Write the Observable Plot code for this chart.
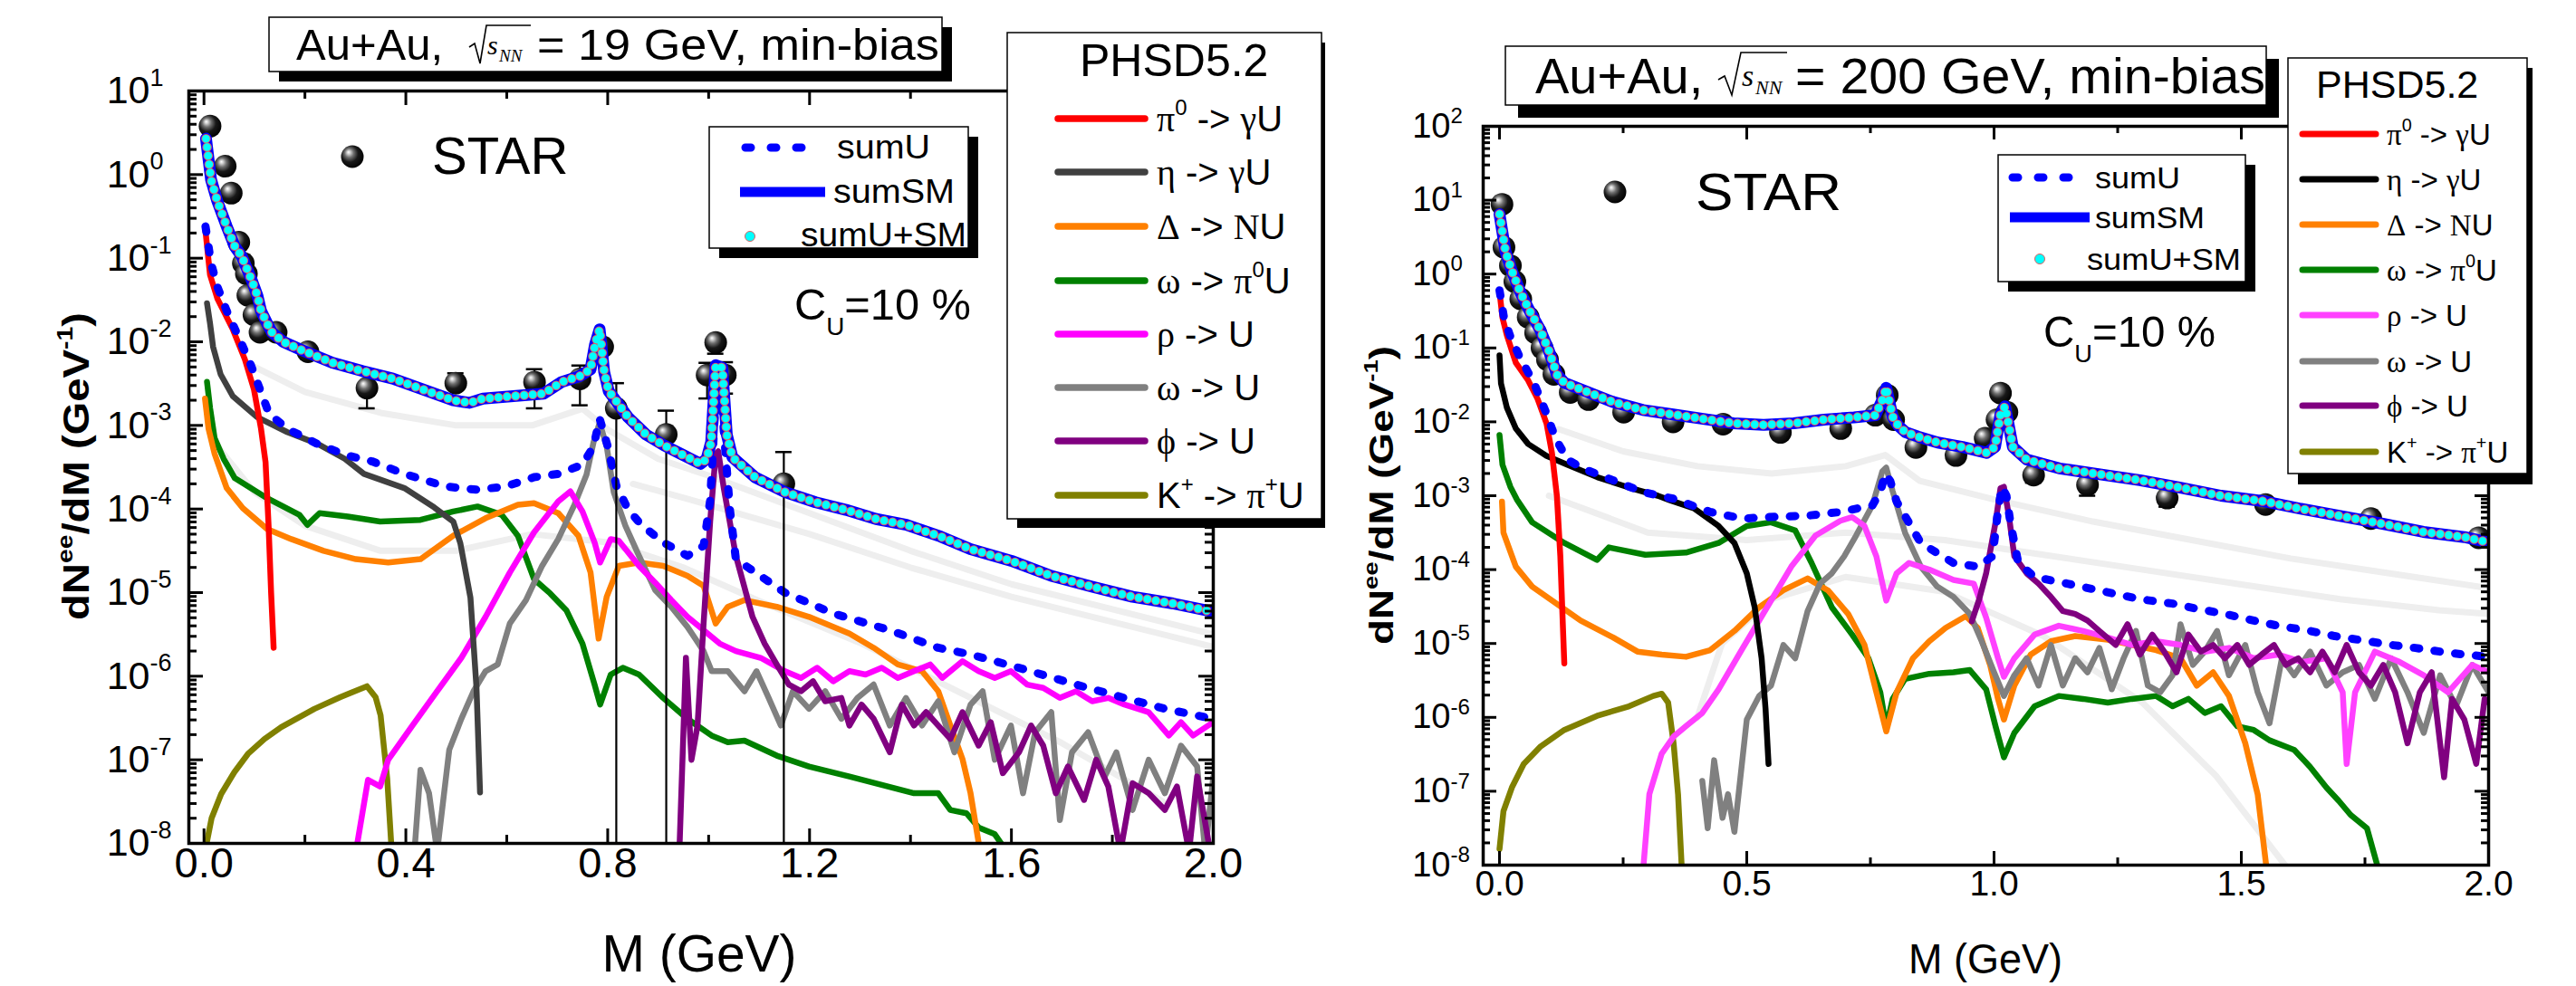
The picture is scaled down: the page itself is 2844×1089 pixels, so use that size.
<!DOCTYPE html>
<html>
<head>
<meta charset="utf-8">
<script src="https://cdn.jsdelivr.net/npm/d3@7"></script>
<script src="https://cdn.jsdelivr.net/npm/@observablehq/plot@0.6"></script>
<style>
  html, body { margin: 0; padding: 0; background: #ffffff; }
  #wrap { position: relative; width: 2844px; height: 1089px; overflow: hidden; background: #ffffff; }
  #wrap svg { position: absolute; top: 0; }
</style>
</head>
<body>
<div id="wrap"></div>
<script>
// ===================== DATA (M in GeV, values read as log10(dN/dM)) =====================
// ---------- Au+Au 19 GeV ----------
const M19_sumSM = [0.004,0.014,0.026,0.045,0.061,0.075,0.095,0.106,0.113,0.126,0.135,0.157,0.194,0.254,0.314,0.374,0.434,0.494,0.526,0.553,0.613,0.673,0.709,0.745,0.766,0.775,0.784,0.793,0.802,0.817,0.840,0.876,0.912,0.948,0.984,0.996,1.005,1.014,1.027,1.036,1.047,1.092,1.152,1.212,1.272,1.332,1.392,1.46,1.519,1.60,1.679,1.76,1.840,1.920,2.0];
const L19_sumSM = [0.43,-0.06,-0.31,-0.62,-0.86,-0.98,-1.27,-1.45,-1.63,-1.79,-1.89,-2.0,-2.1,-2.25,-2.35,-2.44,-2.57,-2.70,-2.73,-2.68,-2.65,-2.62,-2.48,-2.41,-2.33,-2.03,-1.85,-2.36,-2.59,-2.71,-2.90,-3.11,-3.24,-3.35,-3.46,-3.40,-3.20,-2.28,-2.31,-3.11,-3.38,-3.62,-3.80,-3.92,-4.01,-4.12,-4.19,-4.33,-4.48,-4.62,-4.80,-4.93,-5.05,-5.13,-5.23];
const M19_sumUSM = M19_sumSM;
const L19_sumUSM = L19_sumSM;
const M19_sumU = [0.003,0.014,0.027,0.045,0.075,0.093,0.111,0.129,0.165,0.224,0.284,0.333,0.397,0.478,0.542,0.598,0.654,0.702,0.75,0.772,0.784,0.80,0.817,0.840,0.865,0.91,0.958,0.99,1.003,1.012,1.019,1.028,1.042,1.054,1.151,1.247,1.359,1.455,1.519,1.615,1.728,1.824,1.904,2.0];
const L19_sumU = [-0.62,-1.06,-1.35,-1.63,-2.03,-2.28,-2.57,-2.86,-3.04,-3.22,-3.36,-3.43,-3.58,-3.73,-3.77,-3.73,-3.62,-3.58,-3.47,-3.25,-2.92,-3.25,-3.72,-4.0,-4.18,-4.40,-4.56,-4.44,-3.9,-2.9,-2.5,-2.9,-4.0,-4.60,-5.0,-5.25,-5.45,-5.66,-5.74,-5.90,-6.10,-6.26,-6.39,-6.51];
const M19_pi0 = [0.002,0.012,0.027,0.057,0.081,0.099,0.113,0.122,0.128,0.133,0.138];
const L19_pi0 = [-0.62,-1.20,-1.49,-1.85,-2.21,-2.57,-3.04,-3.44,-4.2,-5.0,-5.66];
const M19_eta = [0.006,0.012,0.018,0.033,0.057,0.105,0.165,0.225,0.279,0.317,0.397,0.456,0.494,0.508,0.528,0.540,0.547];
const L19_eta = [-1.54,-1.78,-2.06,-2.39,-2.65,-2.90,-3.08,-3.22,-3.40,-3.58,-3.75,-3.98,-4.15,-4.41,-5.06,-6.14,-7.39];
const M19_delta = [0.002,0.009,0.021,0.045,0.077,0.125,0.173,0.237,0.301,0.365,0.429,0.494,0.558,0.622,0.654,0.702,0.742,0.766,0.782,0.798,0.822,0.862,0.910,0.958,0.990,1.014,1.038,1.071,1.135,1.199,1.279,1.327,1.375,1.423,1.455,1.479,1.503,1.519,1.538];
const L19_delta = [-2.68,-3.04,-3.34,-3.75,-3.99,-4.24,-4.36,-4.50,-4.60,-4.64,-4.60,-4.32,-4.11,-3.95,-3.93,-4.05,-4.32,-4.76,-5.55,-5.05,-4.68,-4.64,-4.68,-4.80,-4.92,-5.37,-5.17,-5.09,-5.17,-5.29,-5.49,-5.66,-5.86,-5.94,-6.18,-6.59,-6.99,-7.40,-8.1];
const M19_omPi0 = [0.006,0.012,0.021,0.039,0.061,0.125,0.189,0.205,0.229,0.285,0.349,0.429,0.494,0.542,0.590,0.622,0.654,0.686,0.718,0.750,0.774,0.785,0.806,0.830,0.862,0.910,0.958,1.006,1.038,1.071,1.135,1.199,1.279,1.343,1.407,1.455,1.479,1.511,1.535,1.567,1.591];
const L19_omPi0 = [-2.48,-2.79,-3.15,-3.40,-3.63,-3.87,-4.07,-4.19,-4.05,-4.09,-4.15,-4.13,-4.03,-3.97,-4.07,-4.32,-4.84,-5.01,-5.21,-5.61,-6.10,-6.34,-5.98,-5.90,-5.98,-6.26,-6.51,-6.71,-6.79,-6.77,-6.95,-7.08,-7.20,-7.30,-7.40,-7.40,-7.60,-7.64,-7.81,-7.89,-8.1];
const M19_rho = [0.301,0.325,0.349,0.365,0.413,0.462,0.510,0.558,0.606,0.654,0.702,0.726,0.750,0.774,0.785,0.806,0.822,0.862,0.894,0.926,0.958,0.990,1.022,1.054,1.103,1.151,1.183,1.215,1.247,1.279,1.311,1.343,1.375,1.407,1.439,1.463,1.503,1.535,1.567,1.599,1.631,1.663,1.696,1.728,1.760,1.792,1.824,1.872,1.912,1.936,1.960,2.0];
const L19_rho = [-8.1,-7.24,-7.32,-7.0,-6.59,-6.18,-5.78,-5.29,-4.76,-4.28,-3.91,-3.79,-4.03,-4.40,-4.64,-4.36,-4.38,-4.68,-4.88,-5.09,-5.29,-5.45,-5.61,-5.70,-5.78,-5.94,-6.02,-5.90,-6.06,-5.94,-5.98,-5.90,-6.02,-5.94,-5.86,-6.02,-5.82,-5.94,-6.02,-5.94,-6.10,-6.14,-6.26,-6.18,-6.30,-6.26,-6.34,-6.43,-6.71,-6.55,-6.71,-6.55];
const M19_omU = [0.417,0.429,0.446,0.462,0.486,0.510,0.534,0.558,0.582,0.606,0.638,0.670,0.702,0.734,0.758,0.772,0.784,0.798,0.812,0.835,0.862,0.894,0.926,0.958,0.990,1.006,1.038,1.071,1.095,1.119,1.143,1.167,1.199,1.231,1.263,1.295,1.327,1.359,1.391,1.423,1.455,1.487,1.519,1.543,1.567,1.599,1.623,1.647,1.679,1.696,1.720,1.752,1.785,1.808,1.840,1.872,1.904,1.936,1.968,1.984,2.0];
const L19_omU = [-8.1,-7.12,-7.40,-8.1,-6.88,-6.51,-6.18,-5.94,-5.86,-5.37,-5.09,-4.68,-4.36,-3.95,-3.59,-3.2,-2.97,-3.25,-3.8,-4.2,-4.56,-4.97,-5.17,-5.41,-5.70,-5.94,-5.94,-6.18,-5.94,-6.26,-6.59,-6.18,-6.39,-6.18,-6.51,-6.26,-6.10,-6.59,-6.26,-6.59,-6.30,-6.91,-6.34,-6.18,-7.0,-6.59,-7.40,-6.67,-6.43,-7.72,-6.91,-6.67,-7.20,-6.91,-7.60,-7.0,-7.40,-6.83,-7.08,-8.1,-7.20];
const M19_phi = [0.942,0.955,0.966,0.978,0.990,1.003,1.014,1.019,1.030,1.054,1.087,1.111,1.135,1.159,1.183,1.207,1.231,1.263,1.279,1.303,1.327,1.359,1.383,1.407,1.431,1.455,1.479,1.503,1.535,1.559,1.583,1.615,1.639,1.663,1.688,1.712,1.744,1.768,1.792,1.816,1.840,1.872,1.904,1.928,1.952,1.968,1.994];
const L19_phi = [-8.1,-5.78,-7.0,-6.59,-5.37,-4.15,-3.34,-3.31,-3.75,-4.56,-5.29,-5.61,-5.86,-6.10,-6.18,-6.06,-6.30,-6.26,-6.59,-6.34,-6.51,-6.91,-6.34,-6.59,-6.43,-6.59,-6.75,-6.43,-6.83,-6.55,-7.16,-6.91,-6.59,-6.83,-7.40,-7.08,-7.48,-7.0,-7.32,-8.1,-7.28,-7.40,-7.60,-7.32,-8.1,-7.20,-8.1];
const M19_K = [0.002,0.015,0.034,0.06,0.087,0.12,0.153,0.219,0.27,0.323,0.34,0.35,0.363,0.372];
const L19_K = [-8.1,-7.7,-7.41,-7.15,-6.93,-6.75,-6.61,-6.39,-6.25,-6.12,-6.25,-6.47,-7.22,-8.1];
// STAR 19 GeV (values)
const starM19 = [0.012,0.042,0.054,0.069,0.078,0.084,0.087,0.099,0.111,0.143,0.206,0.323,0.499,0.655,0.745,0.790,0.817,0.916,0.997,1.014,1.033,1.149];
const starY19 = [3.8,1.26,0.6,0.155,0.087,0.065,0.036,0.021,0.013,0.013,0.0076,0.0028,0.0032,0.0033,0.0036,0.0087,0.0016,7.8e-4,0.004,0.0098,0.004,2e-4];
const errM19  = [0.323,0.499,0.655,0.745,0.817,0.916,0.997,1.014,1.033,1.149];
const errLo19 = [1.6e-3,3.2e-3,1.6e-3,1.74e-3,1e-8,1e-8,2.1e-3,7.2e-3,2.4e-3,1e-8];
const errHi19 = [2.8e-3,4.2e-3,4.7e-3,5.2e-3,3.2e-3,1.5e-3,5.6e-3,9.8e-3,5.7e-3,4.8e-4];
// faint background curves
const ghost19 = [
  [[0.10,0.2,0.35,0.5,0.65,0.75,0.8,0.9,1.0,1.2,1.4,1.6,1.8,2.0],[-2.3,-2.6,-2.85,-3.0,-3.0,-2.8,-3.05,-3.4,-3.6,-4.05,-4.5,-4.9,-5.2,-5.5]],
  [[0.85,1.0,1.2,1.4,1.6,1.8,2.0],[-3.7,-3.95,-4.3,-4.7,-5.05,-5.35,-5.65]],
  [[0.02,0.1,0.2,0.35,0.5,0.65,0.8,0.95,1.1,1.3,1.5,1.7,1.9],[-3.2,-3.8,-4.2,-4.5,-4.5,-4.3,-4.4,-4.7,-5.1,-5.6,-6.2,-6.8,-7.5]]
];
const xMajor19 = [0, 0.4, 0.8, 1.2, 1.6, 2.0];
const xMinor19 = [0.2, 0.6, 1.0, 1.4, 1.8];
const yExp19 = [-8,-7,-6,-5,-4,-3,-2,-1,0,1];

// ---------- Au+Au 200 GeV ----------
const M200_sumSM = [0.0,0.012,0.024,0.043,0.061,0.082,0.100,0.116,0.131,0.168,0.229,0.290,0.351,0.412,0.473,0.534,0.595,0.656,0.717,0.760,0.775,0.782,0.795,0.806,0.821,0.846,0.886,0.936,0.985,1.002,1.013,1.022,1.029,1.038,1.066,1.132,1.214,1.295,1.377,1.459,1.541,1.623,1.705,1.786,1.868,1.951,2.0];
const L200_sumSM = [0.81,0.31,0.06,-0.26,-0.50,-0.75,-1.04,-1.36,-1.47,-1.57,-1.73,-1.84,-1.90,-1.96,-2.02,-2.04,-2.02,-1.97,-1.94,-1.91,-1.69,-1.54,-1.93,-2.05,-2.14,-2.20,-2.28,-2.34,-2.42,-2.34,-1.90,-1.79,-2.02,-2.34,-2.51,-2.63,-2.71,-2.79,-2.89,-3.0,-3.07,-3.18,-3.28,-3.38,-3.49,-3.56,-3.63];
const M200_sumUSM = M200_sumSM;
const L200_sumUSM = L200_sumSM;
const M200_sumU = [0.0,0.009,0.021,0.040,0.070,0.095,0.113,0.137,0.168,0.229,0.290,0.351,0.426,0.492,0.541,0.623,0.689,0.754,0.770,0.780,0.790,0.803,0.852,0.918,0.967,0.997,1.008,1.016,1.025,1.033,1.049,1.082,1.148,1.197,1.246,1.295,1.361,1.410,1.467,1.525,1.574,1.639,1.689,1.738,1.803,1.852,1.902,1.951,2.0];
const L200_sumU = [-0.22,-0.59,-0.83,-1.11,-1.48,-1.89,-2.22,-2.51,-2.63,-2.79,-2.95,-3.04,-3.22,-3.31,-3.29,-3.27,-3.22,-3.13,-2.95,-2.70,-2.80,-3.08,-3.64,-3.91,-3.96,-3.82,-3.2,-2.88,-3.0,-3.36,-3.91,-4.10,-4.19,-4.26,-4.33,-4.40,-4.46,-4.53,-4.60,-4.69,-4.76,-4.83,-4.90,-4.95,-5.02,-5.06,-5.11,-5.15,-5.18];
const M200_pi0 = [0.001,0.006,0.015,0.033,0.058,0.077,0.095,0.106,0.116,0.123,0.128,0.131];
const L200_pi0 = [-0.30,-0.59,-0.83,-1.20,-1.44,-1.69,-2.02,-2.42,-3.0,-3.82,-4.74,-5.27];
const M200_eta = [0.0,0.003,0.015,0.033,0.058,0.095,0.137,0.198,0.262,0.32,0.344,0.393,0.443,0.475,0.5,0.516,0.530,0.538,0.544];
const L200_eta = [-1.10,-1.48,-1.81,-2.09,-2.30,-2.46,-2.58,-2.75,-2.89,-3.0,-3.06,-3.17,-3.41,-3.64,-4.05,-4.51,-5.20,-5.89,-6.63];
const M200_delta = [0.005,0.008,0.033,0.066,0.115,0.164,0.230,0.279,0.328,0.377,0.426,0.475,0.525,0.574,0.623,0.664,0.705,0.738,0.762,0.782,0.803,0.836,0.869,0.902,0.943,0.967,0.992,1.008,1.020,1.041,1.074,1.115,1.164,1.230,1.279,1.328,1.377,1.410,1.443,1.475,1.508,1.533,1.552];
const L200_delta = [-3.08,-3.50,-3.96,-4.23,-4.46,-4.69,-4.92,-5.11,-5.15,-5.18,-5.09,-4.83,-4.51,-4.28,-4.12,-4.28,-4.60,-5.02,-5.66,-6.19,-5.66,-5.20,-4.97,-4.79,-4.63,-4.79,-5.29,-5.75,-6.03,-5.57,-5.15,-4.97,-4.90,-4.95,-5.02,-5.09,-5.20,-5.57,-5.39,-5.71,-6.35,-7.04,-8.1];
const M200_omPi0 = [0.0,0.006,0.022,0.035,0.066,0.131,0.197,0.221,0.295,0.377,0.443,0.5,0.549,0.598,0.631,0.672,0.713,0.746,0.770,0.782,0.795,0.820,0.869,0.918,0.951,0.984,1.003,1.020,1.041,1.082,1.131,1.180,1.230,1.279,1.328,1.361,1.393,1.426,1.459,1.492,1.525,1.557,1.607,1.639,1.672,1.697,1.721,1.754,1.779];
const L200_omPi0 = [-2.18,-2.58,-2.88,-3.05,-3.36,-3.64,-3.87,-3.70,-3.80,-3.77,-3.64,-3.41,-3.36,-3.47,-3.91,-4.51,-4.88,-5.20,-5.66,-6.14,-5.75,-5.48,-5.41,-5.39,-5.36,-5.62,-6.12,-6.54,-6.21,-5.85,-5.71,-5.75,-5.80,-5.75,-5.71,-5.85,-5.75,-5.94,-5.85,-6.12,-6.17,-6.31,-6.44,-6.67,-6.95,-7.13,-7.32,-7.50,-8.1];
const M200_rho = [0.290,0.303,0.328,0.352,0.377,0.410,0.443,0.492,0.541,0.590,0.639,0.689,0.713,0.738,0.762,0.782,0.803,0.828,0.869,0.918,0.959,0.984,1.008,1.020,1.041,1.082,1.131,1.180,1.230,1.279,1.328,1.377,1.426,1.475,1.525,1.574,1.623,1.672,1.705,1.713,1.730,1.770,1.820,1.869,1.918,1.967,2.0];
const L200_rho = [-8.1,-7.04,-6.49,-6.26,-6.12,-5.94,-5.62,-5.06,-4.51,-3.96,-3.54,-3.34,-3.29,-3.41,-3.82,-4.42,-4.05,-3.91,-4.0,-4.14,-4.19,-4.65,-5.20,-5.45,-5.20,-4.88,-4.76,-4.83,-4.92,-5.02,-4.97,-5.02,-5.11,-5.06,-5.20,-5.15,-5.25,-5.20,-5.66,-6.63,-5.66,-5.11,-5.25,-5.43,-5.66,-5.29,-5.39];
const M200_omU = [0.410,0.421,0.434,0.451,0.462,0.475,0.5,0.525,0.549,0.574,0.598,0.623,0.648,0.672,0.697,0.721,0.754,0.774,0.782,0.795,0.820,0.852,0.885,0.918,0.951,0.975,1.0,1.020,1.041,1.066,1.090,1.115,1.139,1.164,1.189,1.213,1.238,1.262,1.287,1.311,1.336,1.361,1.377,1.402,1.426,1.451,1.475,1.508,1.533,1.557,1.582,1.607,1.639,1.672,1.705,1.738,1.770,1.803,1.836,1.869,1.902,1.934,1.967,2.0];
const L200_omU = [-6.86,-7.50,-6.58,-7.36,-7.04,-7.55,-6.03,-5.71,-5.57,-5.02,-5.20,-4.56,-4.19,-4.05,-3.82,-3.54,-3.13,-2.67,-2.62,-2.94,-3.50,-3.96,-4.23,-4.37,-4.60,-4.97,-5.39,-5.71,-5.43,-5.20,-5.57,-5.02,-5.57,-5.20,-5.39,-5.06,-5.62,-5.20,-4.83,-5.57,-5.66,-5.43,-4.74,-5.29,-5.11,-4.83,-5.43,-5.02,-5.66,-6.08,-5.20,-5.43,-5.11,-5.57,-5.39,-5.29,-5.75,-5.20,-5.66,-6.21,-5.43,-5.85,-5.29,-5.66];
const M200_phi = [0.955,0.970,0.984,1.003,1.013,1.020,1.030,1.041,1.066,1.090,1.115,1.139,1.164,1.189,1.213,1.246,1.270,1.295,1.320,1.344,1.369,1.393,1.418,1.443,1.467,1.492,1.516,1.541,1.566,1.590,1.615,1.639,1.664,1.689,1.713,1.738,1.762,1.787,1.811,1.836,1.861,1.885,1.910,1.926,1.951,1.975,1.992,2.0];
const L200_phi = [-4.70,-4.40,-4.05,-3.36,-2.90,-2.88,-3.27,-3.82,-4.05,-4.19,-4.37,-4.56,-4.60,-4.69,-4.83,-5.02,-4.74,-5.15,-4.88,-5.11,-5.39,-4.88,-5.11,-5.02,-5.20,-5.02,-5.29,-5.15,-5.02,-5.29,-5.20,-5.39,-5.11,-5.39,-5.02,-5.39,-5.57,-5.29,-5.66,-6.35,-5.66,-5.39,-6.81,-5.75,-6.03,-6.63,-5.75,-5.80];
const M200_K = [0.0,0.008,0.025,0.049,0.082,0.131,0.197,0.262,0.311,0.328,0.341,0.352,0.361,0.369];
const L200_K = [-7.78,-7.27,-6.95,-6.63,-6.40,-6.17,-5.98,-5.85,-5.71,-5.68,-5.80,-6.35,-7.04,-8.1];
// STAR 200 GeV (values)
const starM200 = [0.005,0.009,0.022,0.031,0.043,0.058,0.073,0.086,0.097,0.110,0.143,0.180,0.251,0.351,0.452,0.568,0.690,0.760,0.784,0.797,0.842,0.923,0.982,1.006,1.013,1.026,1.080,1.189,1.350,1.549,1.762,1.980];
const starY200 = [8.8,2.3,1.3,0.79,0.46,0.26,0.16,0.10,0.069,0.044,0.025,0.020,0.0135,0.010,0.0093,0.0072,0.0081,0.0123,0.023,0.0107,0.0045,0.0035,0.006,0.0107,0.0245,0.0135,0.0019,0.0014,9.3e-4,7.6e-4,4.9e-4,2.7e-4];
const errM200  = [1.080,1.189,1.350];
const errLo200 = [1.5e-3,1.0e-3,7.1e-4];
const errHi200 = [1.9e-3,1.4e-3,9.3e-4];
const ghost200 = [
  [[0.12,0.25,0.4,0.55,0.7,0.78,0.85,1.0,1.2,1.4,1.6,1.8,2.0],[-2.1,-2.4,-2.6,-2.7,-2.6,-2.45,-2.8,-3.05,-3.35,-3.6,-3.85,-4.05,-4.25]],
  [[0.1,0.3,0.5,0.7,0.9,1.1,1.3,1.5,1.7,1.9,2.0],[-3.0,-3.5,-3.6,-3.5,-3.6,-3.8,-4.0,-4.2,-4.4,-4.55,-4.6]],
  [[0.4,0.45,0.55,0.7,0.9,1.1,1.3,1.45,1.6],[-6.0,-5.0,-4.4,-4.1,-4.3,-4.9,-5.8,-6.8,-8.1]]
];
const xMajor200 = [0, 0.5, 1.0, 1.5, 2.0];
const xMinor200 = [0.25, 0.75, 1.25, 1.75];
const yExp200 = [-8,-7,-6,-5,-4,-3,-2,-1,0,1,2];

// ===================== RENDERING =====================
const FONT = "'Liberation Sans', Arial, Helvetica, sans-serif";
const SERIF = "'Liberation Serif', 'Times New Roman', Times, serif";
const wrap = document.getElementById("wrap");

// gradient for the shaded STAR balls
const defs = d3.create("svg").attr("width", 0).attr("height", 0).style("position", "absolute");
const rg = defs.append("defs").append("radialGradient").attr("id", "ball")
  .attr("cx", "0.42").attr("cy", "0.42").attr("r", "0.62").attr("fx", "0.33").attr("fy", "0.3");
[[0, "#ffffff"], [0.12, "#d0d0d0"], [0.32, "#707070"], [0.6, "#181818"], [1, "#000000"]]
  .forEach(([o, c]) => rg.append("stop").attr("offset", o).attr("stop-color", c));
wrap.appendChild(defs.node());

const tbl = (M, L) => M.map((m, i) => ({x: m, y: Math.pow(10, L[i])}));

function panel(p) {
  const [xmin, xmax] = p.xDomain, [ymin, ymax] = p.yDomain;
  const pxX = (p.width - p.ml - p.mr) / (xmax - xmin);
  const decPx = (p.height - p.mt - p.mb) / Math.log10(ymax / ymin);
  const yf = len => Math.pow(10, len / decPx);
  const majorY = p.yExp.map(e => Math.pow(10, e));
  const minorY = [];
  p.yExp.slice(0, -1).forEach(e => { for (let k = 2; k <= 9; k++) minorY.push(k * Math.pow(10, e)); });
  const star = p.starM.map((m, i) => ({x: m, y: p.starY[i]}));
  const err = p.errM.map((m, i) => ({x: m, lo: p.errLo[i], hi: p.errHi[i]}));
  const caps = [];
  err.forEach(d => { caps.push({x: d.x, y: d.hi}); if (d.lo > ymin) caps.push({x: d.x, y: d.lo}); });
  const marks = [];
  p.ghosts.forEach(g => marks.push(Plot.line(tbl(g[0], g[1]), {x: "x", y: "y", stroke: "#eeeeee", strokeWidth: 7, clip: true})));
  p.comps.forEach(c => marks.push(Plot.line(tbl(c.M, c.L), {x: "x", y: "y", stroke: c.color, strokeWidth: p.lw, strokeLinejoin: "round", strokeLinecap: "round", clip: true})));
  marks.push(Plot.line(tbl(p.sumU[0], p.sumU[1]), {x: "x", y: "y", stroke: "#0000ff", strokeWidth: 9, strokeDasharray: "6 17", strokeLinecap: "round", clip: true}));
  marks.push(Plot.ruleX(err, {x: "x", y1: "lo", y2: "hi", stroke: "black", strokeWidth: 2.2, clip: true}));
  marks.push(Plot.ruleY(caps, {y: "y", x1: d => d.x - 9 / pxX, x2: d => d.x + 9 / pxX, stroke: "black", strokeWidth: 2.5}));
  marks.push(Plot.dot(star, {x: "x", y: "y", r: p.ballR, fill: "url(#ball)", stroke: "none"}));
  marks.push(Plot.line(tbl(p.sumSM[0], p.sumSM[1]), {x: "x", y: "y", stroke: "#0000ff", strokeWidth: 13, strokeLinejoin: "round", clip: true}));
  marks.push(Plot.line(tbl(p.sumUSM[0], p.sumUSM[1]), {x: "x", y: "y", stroke: "#e06060", strokeWidth: 10.5, strokeDasharray: "0 9.5", strokeLinecap: "round", clip: true}));
  marks.push(Plot.line(tbl(p.sumUSM[0], p.sumUSM[1]), {x: "x", y: "y", stroke: "#00ffff", strokeWidth: 8.5, strokeDasharray: "0 9.5", strokeLinecap: "round", clip: true}));
  // ticks (inward)
  const tk = {stroke: "black", strokeWidth: 3};
  marks.push(Plot.ruleX(p.xMajor, {x: d => d, y1: ymin, y2: ymin * yf(p.tMaj), ...tk}));
  marks.push(Plot.ruleX(p.xMinor, {x: d => d, y1: ymin, y2: ymin * yf(p.tMin), ...tk}));
  marks.push(Plot.ruleX(p.xMajor, {x: d => d, y1: ymax / yf(p.tMaj), y2: ymax, ...tk}));
  marks.push(Plot.ruleX(p.xMinor, {x: d => d, y1: ymax / yf(p.tMin), y2: ymax, ...tk}));
  marks.push(Plot.ruleY(majorY, {y: d => d, x1: xmin, x2: xmin + p.tMaj / pxX, ...tk}));
  marks.push(Plot.ruleY(minorY, {y: d => d, x1: xmin, x2: xmin + p.tMin / pxX, ...tk}));
  marks.push(Plot.ruleY(majorY, {y: d => d, x1: xmax - p.tMaj / pxX, x2: xmax, ...tk}));
  marks.push(Plot.ruleY(minorY, {y: d => d, x1: xmax - p.tMin / pxX, x2: xmax, ...tk}));
  marks.push(Plot.frame({stroke: "black", strokeWidth: 3.5}));
  // tick labels
  marks.push(Plot.text(p.xMajor, {x: d => d, frameAnchor: "bottom", text: d => d.toFixed(1), dy: p.xLabDy, fontSize: p.xLabSize, fontFamily: FONT, fill: "black"}));
  marks.push(Plot.text(p.yExp, {y: e => Math.pow(10, e), frameAnchor: "left", text: () => "10", textAnchor: "end", dx: p.tenDx, fontSize: p.tenSize, fontFamily: FONT, fill: "black"}));
  marks.push(Plot.text(p.yExp, {y: e => Math.pow(10, e), frameAnchor: "left", text: e => String(e), textAnchor: "start", dx: p.tenDx, dy: p.expDy, fontSize: p.expSize, fontFamily: FONT, fill: "black"}));
  const svg = Plot.plot({
    width: p.width, height: p.height,
    marginLeft: p.ml, marginRight: p.mr, marginTop: p.mt, marginBottom: p.mb,
    x: {domain: p.xDomain, axis: null},
    y: {type: "log", domain: p.yDomain, axis: null},
    style: {background: "transparent", overflow: "visible"},
    marks
  });
  svg.style.left = p.left + "px";
  svg.style.top = "0px";
  wrap.appendChild(svg);
}

panel({
  left: 0, width: 1440, height: 1089, ml: 208, mr: 101, mt: 100, mb: 158,
  xDomain: [-0.03, 2.0], yDomain: [1e-8, 10],
  xMajor: xMajor19, xMinor: xMinor19, yExp: yExp19,
  ghosts: ghost19,
  comps: [
    {M: M19_K, L: L19_K, color: "#808000"},
    {M: M19_omPi0, L: L19_omPi0, color: "#008000"},
    {M: M19_delta, L: L19_delta, color: "#ff8000"},
    {M: M19_omU, L: L19_omU, color: "#808080"},
    {M: M19_rho, L: L19_rho, color: "#ff00ff"},
    {M: M19_phi, L: L19_phi, color: "#800080"},
    {M: M19_eta, L: L19_eta, color: "#404040"},
    {M: M19_pi0, L: L19_pi0, color: "#ff0000"}
  ],
  sumU: [M19_sumU, L19_sumU], sumSM: [M19_sumSM, L19_sumSM], sumUSM: [M19_sumUSM, L19_sumUSM],
  starM: starM19, starY: starY19, errM: errM19, errLo: errLo19, errHi: errHi19,
  lw: 6.5, ballR: 12.5, tMaj: 16, tMin: 9,
  xLabSize: 47, xLabDy: 37, tenSize: 43, tenDx: -43, expSize: 27, expDy: -14
});

panel({
  left: 1440, width: 1404, height: 1089, ml: 197, mr: 97, mt: 139, mb: 134,
  xDomain: [-0.033, 2.0], yDomain: [1e-8, 100],
  xMajor: xMajor200, xMinor: xMinor200, yExp: yExp200,
  ghosts: ghost200,
  comps: [
    {M: M200_K, L: L200_K, color: "#808000"},
    {M: M200_omPi0, L: L200_omPi0, color: "#008000"},
    {M: M200_delta, L: L200_delta, color: "#ff8000"},
    {M: M200_omU, L: L200_omU, color: "#808080"},
    {M: M200_rho, L: L200_rho, color: "#ff40ff"},
    {M: M200_phi, L: L200_phi, color: "#800080"},
    {M: M200_eta, L: L200_eta, color: "#000000"},
    {M: M200_pi0, L: L200_pi0, color: "#ff0000"}
  ],
  sumU: [M200_sumU, L200_sumU], sumSM: [M200_sumSM, L200_sumSM], sumUSM: [M200_sumUSM, L200_sumUSM],
  starM: starM200, starY: starY200, errM: errM200, errLo: errLo200, errHi: errHi200,
  lw: 6.5, ballR: 12.5, tMaj: 15, tMin: 8,
  xLabSize: 39, xLabDy: 33, tenSize: 38, tenDx: -36, expSize: 24, expDy: -11
});

// ===================== ANNOTATIONS (titles, legends, labels) =====================
const ov = d3.create("svg").attr("width", 2844).attr("height", 1089).style("position", "absolute").style("left", "0px").style("top", "0px");
wrap.appendChild(ov.node());

function rect(x, y, w, h, fill, stroke) {
  const r = ov.append("rect").attr("x", x).attr("y", y).attr("width", w).attr("height", h).attr("fill", fill);
  if (stroke) r.attr("stroke", stroke).attr("stroke-width", 1.5);
  return r;
}
function rich(parent, x, y, size, segs, opts = {}) {
  const t = parent.append("text").attr("x", x).attr("y", y).attr("font-size", size)
    .attr("font-family", FONT).attr("fill", "black");
  if (opts.anchor) t.attr("text-anchor", opts.anchor);
  if (opts.weight) t.attr("font-weight", opts.weight);
  let shift = 0;
  segs.forEach(s => {
    const ts = t.append("tspan").text(s.t);
    let target = 0, fs = size;
    if (s.sup) { target = -size * 0.45; fs = size * 0.6; }
    if (s.sub) { target = size * 0.35; fs = size * 0.6; }
    if (s.fs) fs = s.fs;
    ts.attr("dy", target - shift).attr("font-size", fs);
    shift = target;
    if (s.serif) ts.attr("font-family", SERIF);
    if (s.it) ts.attr("font-style", "italic");
  });
  if (opts.len) t.attr("textLength", opts.len).attr("lengthAdjust", "spacingAndGlyphs");
  return t;
}
function seg(x1, y1, x2, y2, color, w, dash) {
  const l = ov.append("line").attr("x1", x1).attr("y1", y1).attr("x2", x2).attr("y2", y2)
    .attr("stroke", color).attr("stroke-width", w).attr("stroke-linecap", "round");
  if (dash) l.attr("stroke-dasharray", dash);
  return l;
}

// ---- titles ----
rect(308, 30, 743, 60, "black");
rect(297, 19, 743, 60, "white", "black");
rich(ov, 327, 66, 49, [{t: "Au+Au,"}]);
ov.append("path").attr("d", "M518,52 L524,48 L530,70 L537,28 L586,28").attr("fill", "none").attr("stroke", "black").attr("stroke-width", 1.6);
rich(ov, 538, 60, 30, [{t: "s", serif: 1, it: 1}]);
rich(ov, 551, 68, 19, [{t: "NN", serif: 1, it: 1}]);
rich(ov, 593, 66, 49, [{t: "= 19 GeV, min-bias"}], {len: 444});

rect(1676, 65, 840, 65, "black");
rect(1662, 51, 840, 65, "white", "black");
rich(ov, 1695, 103, 56, [{t: "Au+Au,"}]);
ov.append("path").attr("d", "M1897,88 L1904,84 L1912,105 L1922,58 L1973,58").attr("fill", "none").attr("stroke", "black").attr("stroke-width", 1.6);
rich(ov, 1923, 95, 34, [{t: "s", serif: 1, it: 1}]);
rich(ov, 1938, 104, 22, [{t: "NN", serif: 1, it: 1}]);
rich(ov, 1982, 103, 56, [{t: "= 200 GeV, min-bias"}], {len: 519});

// ---- PHSD legends ----
const phsdLabels = [
  [{t: "π", serif: 1}, {t: "0", sup: 1}, {t: " -> "}, {t: "γ", serif: 1}, {t: "U"}],
  [{t: "η", serif: 1}, {t: " -> "}, {t: "γ", serif: 1}, {t: "U"}],
  [{t: "Δ", serif: 1}, {t: " -> "}, {t: "N", serif: 1}, {t: "U"}],
  [{t: "ω", serif: 1}, {t: " -> "}, {t: "π", serif: 1}, {t: "0", sup: 1}, {t: "U"}],
  [{t: "ρ", serif: 1}, {t: " -> U"}],
  [{t: "ω", serif: 1}, {t: " -> U"}],
  [{t: "ϕ", serif: 1}, {t: " -> U"}],
  [{t: "K"}, {t: "+", sup: 1}, {t: " -> "}, {t: "π", serif: 1}, {t: "+", sup: 1}, {t: "U"}]
];
const phsdColors19 = ["#ff0000", "#404040", "#ff8000", "#008000", "#ff00ff", "#808080", "#800080", "#808000"];
const phsdColors200 = ["#ff0000", "#000000", "#ff8000", "#008000", "#ff40ff", "#808080", "#800080", "#808000"];

rect(1123, 47, 340, 536, "black");
rect(1112, 36, 347, 537, "white", "black");
rich(ov, 1192, 84, 50, [{t: "PHSD5.2"}]);
[131, 190, 250, 310, 369, 428, 487, 547].forEach((y, i) => {
  seg(1168, y, 1264, y, phsdColors19[i], 7.5);
  rich(ov, 1277, y + 14, 40, phsdLabels[i]);
});

rect(2537, 75, 259, 460, "black");
rect(2526, 64, 264, 459, "white", "black");
rich(ov, 2557, 108, 43, [{t: "PHSD5.2"}]);
[148, 198, 248, 298, 348, 399, 448, 499].forEach((y, i) => {
  seg(2542, y, 2623, y, phsdColors200[i], 7);
  rich(ov, 2635, y + 12, 33, phsdLabels[i]);
});

// ---- sum legends ----
function sumLegend(bx, by, bw, bh, off, rows, fs) {
  rect(bx + off, by + off, bw, bh, "black");
  rect(bx, by, bw, bh, "white", "black");
  const [r1, r2, r3] = rows;
  seg(r1.x1, r1.y, r1.x2, r1.y, "#0000ff", 9, "6 22");
  rich(ov, r1.tx, r1.ty, fs, [{t: "sumU"}], {len: r1.len});
  ov.append("line").attr("x1", r2.x1).attr("x2", r2.x2).attr("y1", r2.y).attr("y2", r2.y).attr("stroke", "#0000ff").attr("stroke-width", 11);
  rich(ov, r2.tx, r2.ty, fs, [{t: "sumSM"}], {len: r2.len});
  ov.append("circle").attr("cx", r3.x).attr("cy", r3.y).attr("r", 5.5).attr("fill", "#00ffff").attr("stroke", "#e06060").attr("stroke-width", 1);
  rich(ov, r3.tx, r3.ty, fs, [{t: "sumU+SM"}], {len: r3.len});
}
sumLegend(783, 140, 286, 134, 11, [
  {x1: 823, x2: 897, y: 163, tx: 924, ty: 175, len: 103},
  {x1: 817, x2: 911, y: 212, tx: 920, ty: 224, len: 134},
  {x: 828, y: 261, tx: 884, ty: 272, len: 183}
], 36);
sumLegend(2206, 171, 273, 140, 11, [
  {x1: 2222, x2: 2295, y: 196, tx: 2313, ty: 208, len: 94},
  {x1: 2219, x2: 2307, y: 240, tx: 2313, ty: 252, len: 121},
  {x: 2252, y: 286, tx: 2304, ty: 298, len: 170}
], 33);

// ---- STAR labels ----
ov.append("circle").attr("cx", 389).attr("cy", 173).attr("r", 12.5).attr("fill", "url(#ball)");
rich(ov, 477, 192, 58, [{t: "STAR"}]);
ov.append("circle").attr("cx", 1783).attr("cy", 212).attr("r", 12.5).attr("fill", "url(#ball)");
rich(ov, 1872, 232, 58, [{t: "STAR"}], {len: 161});

// ---- C_U ----
rich(ov, 877, 353, 49, [{t: "C"}, {t: "U", sub: 1, fs: 28}, {t: "=10 %"}], {len: 195});
rich(ov, 2256, 383, 49, [{t: "C"}, {t: "U", sub: 1, fs: 28}, {t: "=10 %"}], {len: 190});

// ---- axis titles ----
const gl = ov.append("g").attr("transform", "translate(98,515) rotate(-90)");
rich(gl, 0, 0, 40, [{t: "dN"}, {t: "ee", sup: 1}, {t: "/dM (GeV"}, {t: "-1", sup: 1}, {t: ")"}], {anchor: "middle", weight: "bold", len: 340});
const gr = ov.append("g").attr("transform", "translate(1538,547) rotate(-90)");
rich(gr, 0, 0, 37, [{t: "dN"}, {t: "ee", sup: 1}, {t: "/dM (GeV"}, {t: "-1", sup: 1}, {t: ")"}], {anchor: "middle", weight: "bold", len: 330});
rich(ov, 772, 1073, 58, [{t: "M (GeV)"}], {anchor: "middle", len: 215});
rich(ov, 2192, 1075, 46, [{t: "M (GeV)"}], {anchor: "middle", len: 170});
</script>
</body>
</html>
